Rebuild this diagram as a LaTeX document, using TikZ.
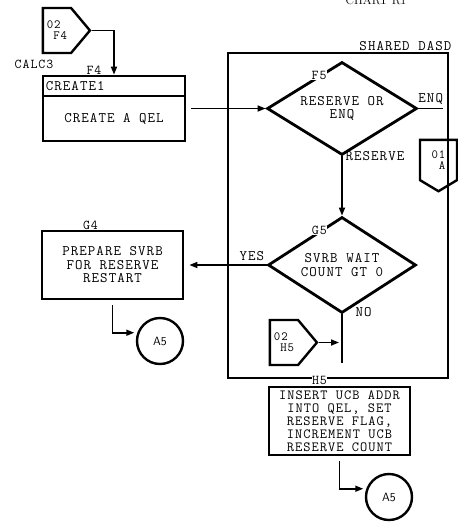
\documentclass[tikz,border=0pt]{standalone}
\usepackage{fontspec}
\setmonofont{Latin Modern Mono}[LetterSpace=7.5]
\usetikzlibrary{arrows.meta, shapes.geometric, shapes.symbols, positioning, calc}

\begin{document}
\begin{tikzpicture}[
        x=1pt, y=-1pt,
        font={\ttfamily\fontsize{14.5}{13.5}\selectfont},
        process/.style={rectangle, draw, line width=2.8pt, minimum width=141pt, inner sep=1pt, align=center},
        decision/.style={diamond, draw, line width=2.8pt, aspect=1.6, inner sep=0pt, align=center},
        offpage/.style={signal, draw, line width=2.4pt, signal from=nowhere, inner sep=1pt, font={\ttfamily\fontsize{12.5}{11}\selectfont}},
        connector/.style={circle, draw, line width=2.4pt, minimum size=46pt, inner sep=0pt, font={\sffamily\fontsize{12}{12}\selectfont}},
        frame/.style={rectangle, draw, line width=1.2pt, inner sep=0pt},
        tag/.style={fill=white, inner sep=0.5pt, font={\ttfamily\fontsize{13.5}{12}\selectfont}},
        flow/.style={line width=1.6pt},
        arrow/.style={flow, -{Triangle[length=8pt, width=6pt]}}
    ]
        \useasboundingbox (0,0) rectangle (458,523);

        % Chart heading (cut at the top edge)
        \node (title) [font={\rmfamily\fontsize{12}{12}\selectfont}, anchor=base] at (376,4) {CHART R1};

        % Shared DASD frame
        \node (dasd) [frame, minimum width=220pt, minimum height=325pt] at (338,215.5) {};
        \node (dasdlbl) [anchor=south east, inner sep=1pt] at ([xshift=4pt, yshift=1pt]dasd.north east) {SHARED DASD};

        % Entry connector and CREATE1 box
        \node (inF4) [offpage, signal to=east, signal pointer angle=100, minimum width=47pt, minimum height=45pt, align=left] at (57,30.5) {02\\\phantom{0}F4};
        \node (calc) [font={\ttfamily\fontsize{13.5}{12}\selectfont}] at (34,64) {CALC3};
        \node (create) [process, minimum width=142pt, minimum height=65pt] at (114,108.5) {};
        \draw [line width=2.2pt] ([yshift=-21pt]create.north west) -- ([yshift=-21pt]create.north east);
        \node (createhd) [anchor=west, inner sep=1pt] at ([xshift=3pt, yshift=-11.5pt]create.north west) {CREATE1};
        \node (createbody) at ($(create.south)!0.5!([yshift=-21pt]create.north)$) {CREATE A QEL};
        \node [tag, yshift=4pt] at ([xshift=-20pt]create.north) {F4};

        % Decisions
        \node (resv) [decision, minimum width=150pt, minimum height=93pt] at (342,108.5) {RESERVE OR\\ENQ};
        \node [tag] at ($(resv.west)!0.7!(resv.north)$) {F5};
        \node (wait) [decision, minimum width=148pt, minimum height=96pt] at (342,265) {SVRB WAIT\\COUNT GT 0};
        \node [tag] at ($(wait.west)!0.7!(wait.north)$) {G5};

        % Exit connector to page 01
        \node (outA) [offpage, signal to=south, signal pointer angle=118, minimum width=37pt, minimum height=45pt, align=right] at (438.5,160) {01\\A};

        % Process boxes
        \node (prep) [process, minimum height=68pt] at (112.5,265) {PREPARE SVRB\\FOR RESERVE\\RESTART};
        \node [tag, yshift=4pt] at ([xshift=-22pt]prep.north) {G4};
        \node (insert) [process, minimum height=68pt, font={\ttfamily\fontsize{14}{13}\selectfont}] at (339.5,421) {INSERT UCB ADDR\\INTO QEL, SET\\RESERVE FLAG,\\INCREMENT UCB\\RESERVE COUNT};
        \node [tag, yshift=5pt] at ([xshift=-20pt]insert.north) {H5};

        % Connectors
        \node (inH5) [offpage, signal to=east, signal pointer angle=100, minimum width=47pt, minimum height=45pt, align=left] at (284,342.5) {02\\\phantom{0}H5};
        \node (exitG) [connector] at (160,341) {A5};
        \node (exitH) [connector] at (389,497) {A5};

        \coordinate (enqend) at (443,108.5);
        \coordinate (waitend) at (342,363);

        % Flows
        \draw [arrow] (inF4.east) -| (create.north);
        \draw [arrow] ([xshift=5pt]create.east) -- (resv.west);
        \draw [flow] (resv.east) -- node[above] {ENQ} (enqend);
        \node (reslbl) [anchor=west] at (resv.south) {RESERVE};
        \draw [arrow] (resv.south) -- (wait.north);
        \draw [arrow] (wait.west) -- node[pos=0.19, above] {YES} ([xshift=5pt]prep.east);
        \draw [flow] (wait.south) -- (waitend);
        \node (nolbl) [anchor=west, xshift=10pt, yshift=2.5pt] at (wait.south) {NO};
        \draw [arrow] (inH5.east) -- ([xshift=-3pt]inH5.east -| waitend);
        \draw [arrow, shorten >=3pt] ([yshift=-5pt]prep.south) |- (exitG.160);
        \draw [arrow, shorten >=3pt] ([yshift=-5pt]insert.south) |- (exitH.160);
    \end{tikzpicture}
\end{document}
